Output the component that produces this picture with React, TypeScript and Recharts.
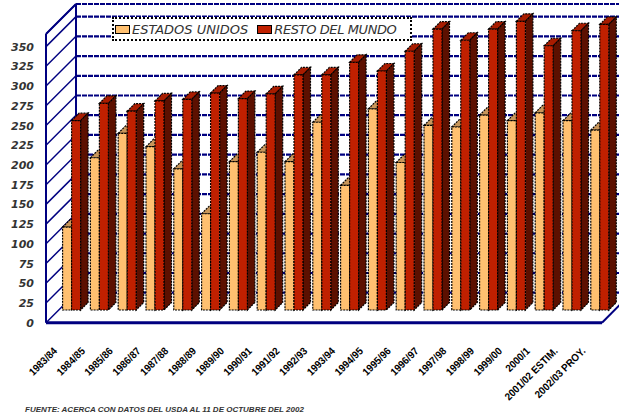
import React from "react";
import { BarChart, Bar, XAxis, YAxis, CartesianGrid, Legend } from "recharts";

// campañas (eje X)
const campanas = [
  "1983/84", "1984/85", "1985/86", "1986/87", "1987/88", "1988/89", "1989/90",
  "1990/91", "1991/92", "1992/93", "1993/94", "1994/95", "1995/96", "1996/97",
  "1997/98", "1998/99", "1999/00", "2000/1", "2001/02 ESTIM.", "2002/03 PROY.",
];

const estadosUnidos = [
  105, 193, 224, 207, 179, 122, 188, 200, 188, 238,
  158, 255, 187, 234, 232, 247, 240, 250, 240, 228,
];

const restoDelMundo = [
  240, 262, 252, 265, 267, 275, 268, 274, 298, 298,
  314, 303, 328, 356, 342, 356, 366, 335, 354, 362,
];

const yTicks = [0, 25, 50, 75, 100, 125, 150, 175, 200, 225, 250, 275, 300, 325, 350];
const Y_MAX = 366;

const data = campanas.map((c, i) => ({
  campana: c,
  eu: estadosUnidos[i],
  rm: restoDelMundo[i],
}));

// layout
const W = 619;
const H = 417;
const PLOT_LEFT = 46;
const PLOT_RIGHT = 602;
const PLOT_TOP = 34;
const X_AXIS_H = 60;
const MARGIN_BOTTOM = 34.3;
const PLOT_BOTTOM = H - X_AXIS_H - MARGIN_BOTTOM;
const DEPTH = 30; // profundidad de las paredes
const BAR_DX = 12;
const BAR_DY = -12.7;
const BAR_D = 7.5; // profundidad de cada columna

const NAVY = "#000080";
const US = { front: "#FFC070", top: "#C8965A", side: "#A87440" };
const RM = { front: "#C02000", top: "#A81C00", side: "#5C1000" };

const column3D = (c: { front: string; top: string; side: string }) => (props: any) => {
  const { x, y, width, height } = props;
  if (!height || height <= 0) return <g />;
  const fx = x + BAR_DX;
  const fy = y + BAR_DY;
  const stroke = { stroke: "#000", strokeWidth: 1.2, strokeDasharray: "2 1" };
  return (
    <g>
      <polygon
        points={`${fx},${fy} ${fx + BAR_D},${fy - BAR_D} ${fx + width + BAR_D},${fy - BAR_D} ${fx + width},${fy}`}
        fill={c.top}
        {...stroke}
      />
      <polygon
        points={`${fx + width},${fy} ${fx + width + BAR_D},${fy - BAR_D} ${fx + width + BAR_D},${fy + height - BAR_D} ${fx + width},${fy + height}`}
        fill={c.side}
        {...stroke}
      />
      <rect x={fx} y={fy} width={width} height={height} fill={c.front} {...stroke} />
    </g>
  );
};

const wallLine = (props: any) => {
  const { x1, y1, x2 } = props;
  return (
    <g key={`wall-${y1}`}>
      <line x1={x1} y1={y1} x2={x1 + DEPTH} y2={y1 - DEPTH} stroke={NAVY} strokeWidth={1.5} />
      <line
        x1={x1 + DEPTH}
        y1={y1 - DEPTH}
        x2={x2 + DEPTH}
        y2={y1 - DEPTH}
        stroke={NAVY}
        strokeWidth={2.2}
        strokeDasharray="5 1"
      />
    </g>
  );
};

const ValueTick = (props: any) => {
  const { x, y, payload } = props;
  return (
    <text
      x={x - 12}
      y={y}
      dy={4}
      textAnchor="end"
      fontFamily="DejaVu Sans"
      fontStyle="italic"
      fontWeight="bold"
      fontSize={11}
      fill="#333"
    >
      {payload.value}
    </text>
  );
};

const CampanaTick = (props: any) => {
  const { x, y, payload } = props;
  return (
    <g transform={`translate(${x - 2},${y + 29})`}>
      <text
        textAnchor="end"
        transform="rotate(-45) scale(0.92,1)"
        fontFamily="Liberation Sans"
        fontWeight="bold"
        fontSize={10.5}
        fill="#000"
      >
        {payload.value}
      </text>
    </g>
  );
};

const swatch = (color: string) => (
  <span
    style={{
      display: "inline-block",
      width: 13,
      height: 7,
      background: color,
      border: "1px solid #000",
      marginRight: 2,
    }}
  />
);

const LegendBox = () => (
  <div
    style={{
      boxSizing: "border-box",
      width: 300,
      height: 24,
      background: "#fff",
      border: "2px dotted #000",
      display: "flex",
      alignItems: "center",
      paddingLeft: 1,
      fontFamily: "DejaVu Sans",
      fontStyle: "italic",
      fontSize: 13,
      color: "#333",
      whiteSpace: "nowrap",
    }}
  >
    {swatch(US.front)}
    <span style={{ marginRight: 9 }}>ESTADOS UNIDOS</span>
    {swatch(RM.front)}
    <span style={{ letterSpacing: -0.4 }}>RESTO DEL MUNDO</span>
  </div>
);

export default function App() {
  const backLeft = PLOT_LEFT + DEPTH;
  const backTop = PLOT_TOP - DEPTH;
  return (
    <div style={{ position: "absolute", left: 0, top: 0, width: W, height: H, background: "#fff", overflow: "hidden" }}>
      <svg width={W} height={H} style={{ position: "absolute", left: 0, top: 0 }}>
        <line x1={PLOT_LEFT} y1={PLOT_TOP} x2={backLeft} y2={backTop} stroke={NAVY} strokeWidth={2} />
        <line x1={backLeft} y1={backTop} x2={backLeft} y2={PLOT_BOTTOM - DEPTH} stroke={NAVY} strokeWidth={2} />
        <line
          x1={backLeft}
          y1={backTop}
          x2={PLOT_RIGHT + DEPTH}
          y2={backTop}
          stroke={NAVY}
          strokeWidth={2.2}
          strokeDasharray="5 1"
        />
        <line
          x1={PLOT_RIGHT}
          y1={PLOT_BOTTOM}
          x2={PLOT_RIGHT + DEPTH}
          y2={PLOT_BOTTOM - DEPTH}
          stroke={NAVY}
          strokeWidth={2}
        />
      </svg>
      <div style={{ position: "absolute", left: 0, top: 0 }}>
        <BarChart
          width={W}
          height={H}
          data={data}
          margin={{ top: PLOT_TOP, right: W - PLOT_RIGHT, bottom: MARGIN_BOTTOM, left: 0 }}
          barCategoryGap="16.5%"
          barGap={0}
        >
          <CartesianGrid vertical={false} horizontal={wallLine} />
          <XAxis
            dataKey="campana"
            height={X_AXIS_H}
            interval={0}
            tickLine={false}
            tickSize={0}
            tickMargin={0}
            axisLine={{ stroke: NAVY, strokeWidth: 3 }}
            tick={<CampanaTick />}
          />
          <YAxis
            width={PLOT_LEFT}
            domain={[0, Y_MAX]}
            ticks={yTicks}
            interval={0}
            tickLine={false}
            tickSize={0}
            tickMargin={0}
            axisLine={{ stroke: NAVY, strokeWidth: 2 }}
            tick={<ValueTick />}
          />
          <Legend
            layout="horizontal"
            verticalAlign="middle"
            align="center"
            wrapperStyle={{ top: 17, left: 112, width: 300, height: 24 }}
            content={<LegendBox />}
          />
          <Bar dataKey="eu" name="ESTADOS UNIDOS" fill={US.front} shape={column3D(US)} isAnimationActive={false} />
          <Bar dataKey="rm" name="RESTO DEL MUNDO" fill={RM.front} shape={column3D(RM)} isAnimationActive={false} />
        </BarChart>
      </div>
      <div
        style={{
          position: "absolute",
          left: 25,
          top: 405,
          fontFamily: "Liberation Sans",
          fontStyle: "italic",
          fontWeight: "bold",
          fontSize: 8,
          lineHeight: "10px",
          color: "#333",
          whiteSpace: "nowrap",
        }}
      >
        FUENTE: ACERCA CON DATOS DEL USDA AL 11 DE OCTUBRE DEL 2002
      </div>
    </div>
  );
}
